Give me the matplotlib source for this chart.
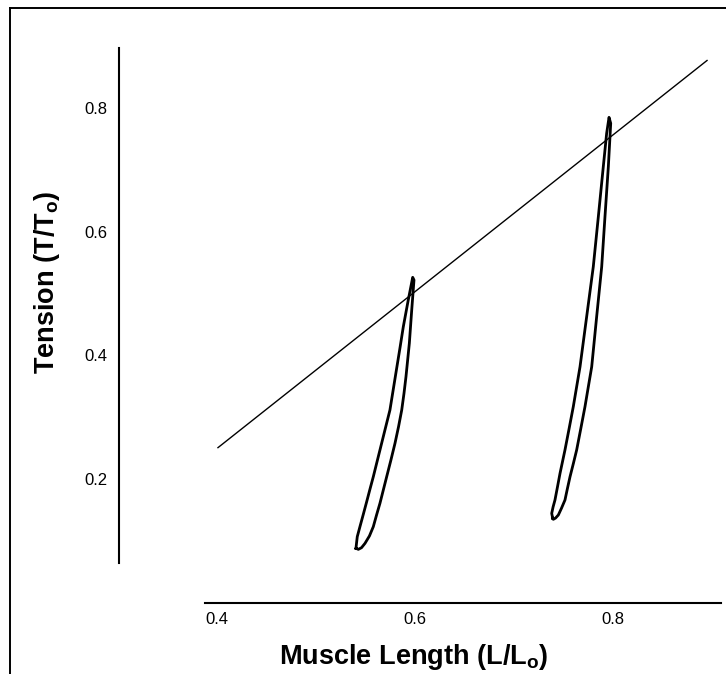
import numpy as np
import matplotlib.pyplot as plt
from matplotlib.lines import Line2D

plt.rcParams['font.family'] = ['Liberation Sans', 'DejaVu Sans']
plt.rcParams['mathtext.fontset'] = 'custom'
plt.rcParams['mathtext.rm'] = 'Liberation Sans:bold'
plt.rcParams['mathtext.bf'] = 'Liberation Sans:bold'

#ticks
x_ticks = [0.4, 0.6, 0.8]
y_ticks = [0.2, 0.4, 0.6, 0.8]

#straight load line
line_x = [0.401, 0.895]
line_y = [0.250, 0.877]

#loop near L/Lo = 0.6 (bottom -> left branch up -> right branch down)
loop1_x = [0.5404, 0.5410, 0.5417, 0.5444, 0.5478, 0.5512, 0.5545, 0.5579, 0.5621, 0.5663, 0.5705, 0.5747,
           0.5781, 0.5815, 0.5849, 0.5882, 0.5932, 0.5977,
           0.5990, 0.5967, 0.5943, 0.5909, 0.5889, 0.5866, 0.5834, 0.5798, 0.5757, 0.5714, 0.5646, 0.5612,
           0.5579, 0.5540, 0.5495, 0.5460, 0.5428, 0.5404]
loop1_y = [0.0870, 0.0960, 0.1058, 0.1220, 0.1420, 0.1624, 0.1826, 0.2029, 0.2300, 0.2570, 0.2840, 0.3109,
           0.3447, 0.3785, 0.4121, 0.4458, 0.4891, 0.5258,
           0.5215, 0.4729, 0.4190, 0.3649, 0.3379, 0.3109, 0.2840, 0.2570, 0.2300, 0.2029, 0.1598, 0.1410,
           0.1220, 0.1070, 0.0950, 0.0880, 0.0853, 0.0870]

#loop near L/Lo = 0.8
loop2_x = [0.7391, 0.7381, 0.7395, 0.7414, 0.7440, 0.7465, 0.7515, 0.7557, 0.7599, 0.7633, 0.7667, 0.7734,
           0.7801, 0.7852, 0.7902, 0.7936, 0.7960,
           0.7977, 0.7953, 0.7919, 0.7886, 0.7835, 0.7785, 0.7751, 0.7717, 0.7675, 0.7633, 0.7600, 0.7566,
           0.7540, 0.7515, 0.7480, 0.7448, 0.7420, 0.7397, 0.7391]
loop2_y = [0.1355, 0.1436, 0.1540, 0.1652, 0.1870, 0.2084, 0.2462, 0.2810, 0.3163, 0.3487, 0.3810, 0.4620,
           0.5430, 0.6240, 0.7049, 0.7590, 0.7849,
           0.7752, 0.7049, 0.6240, 0.5430, 0.4620, 0.3810, 0.3487, 0.3163, 0.2810, 0.2462, 0.2245, 0.2029,
           0.1840, 0.1652, 0.1520, 0.1409, 0.1360, 0.1339, 0.1355]

fig = plt.figure(figsize=(7.26, 6.74), dpi=100)
ax = fig.add_axes([205/726, 1-563/674, 516/726, 515/674])

ax.plot(line_x, line_y, color='black', lw=1.0)
ax.plot(loop1_x, loop1_y, color='black', lw=2.0, solid_joinstyle='round')
ax.plot(loop2_x, loop2_y, color='black', lw=2.0, solid_joinstyle='round')

ax.set_xlim(0.3879, 0.9091)
ax.set_ylim(0.0632, 0.8972)

#detached axes like the original figure
ax.spines['top'].set_visible(False)
ax.spines['right'].set_visible(False)
ax.spines['left'].set_position(('outward', 62))
ax.spines['bottom'].set_position(('outward', 29))
ax.spines['left'].set_linewidth(1.5)
ax.spines['bottom'].set_linewidth(1.5)

ax.set_xticks(x_ticks)
ax.set_xticklabels(['%.1f' % v for v in x_ticks])
ax.set_yticks(y_ticks)
ax.set_yticklabels(['%.1f' % v for v in y_ticks])
ax.tick_params(axis='both', length=0, labelsize=12)
ax.tick_params(axis='x', pad=6)
ax.tick_params(axis='y', pad=8)

fig.text(414/726, 1-657/674, 'Muscle Length (L/L$_\\mathrm{o}$)', ha='center', va='center',
         fontsize=19.5, fontweight='bold')
fig.text(47/726, 1-282/674, 'Tension (T/T$_\\mathrm{o}$)', ha='center', va='center',
         rotation=90, fontsize=19.5, fontweight='bold')

#frame (only left and top edges show in the scan)
fig.add_artist(Line2D([10/726, 10/726], [0, 1-8/674], color='black', lw=1.4))
fig.add_artist(Line2D([10/726, 1], [1-8/674, 1-8/674], color='black', lw=1.4))

fig.savefig('out.png', dpi=100)
